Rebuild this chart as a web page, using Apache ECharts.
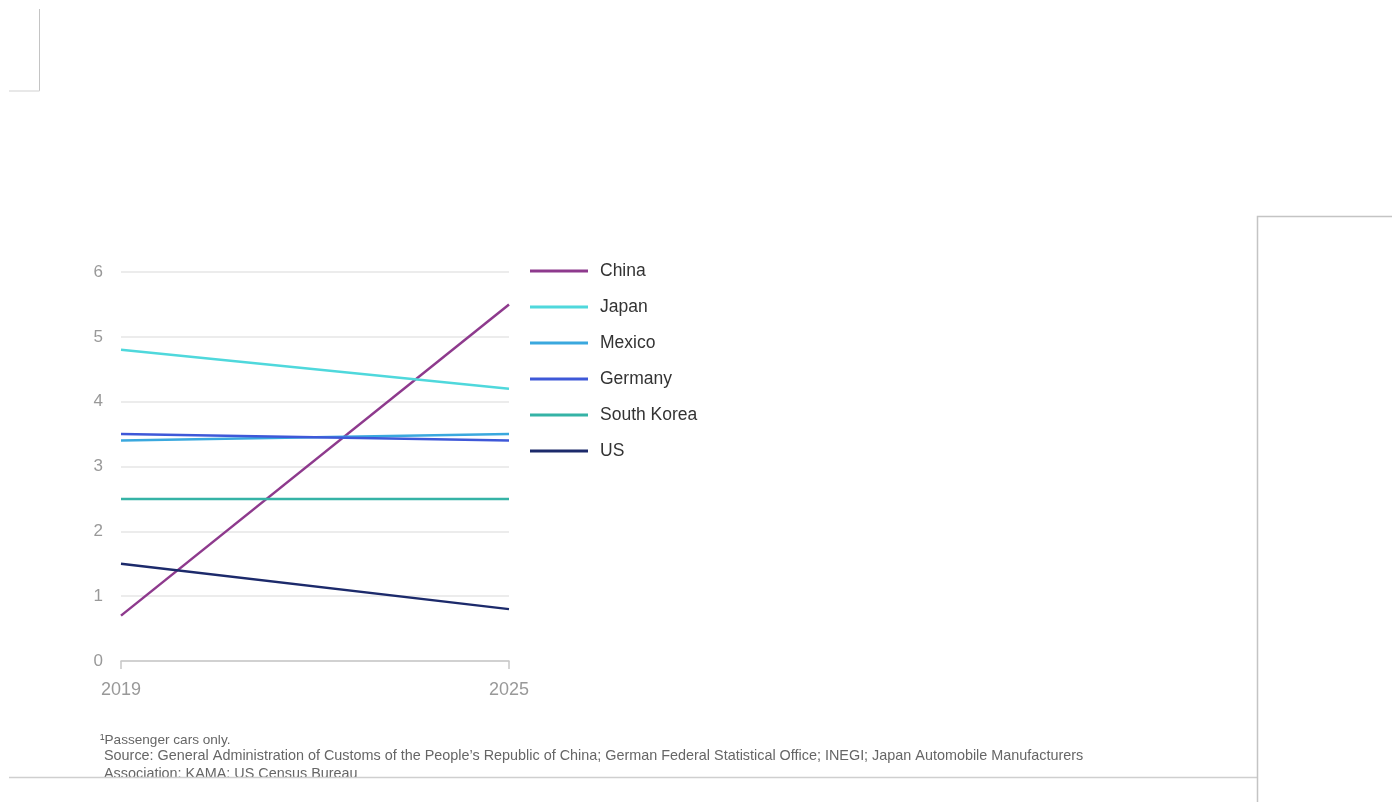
<!DOCTYPE html>
<html>
<head>
<meta charset="utf-8">
<script src="https://cdn.jsdelivr.net/npm/echarts@6/dist/echarts.min.js"></script>
<style>
  html, body { margin: 0; padding: 0; background: #fff; }
  #mychart { width: 1392px; height: 802px; }
</style>
</head>
<body>
<div id="mychart"></div>
<script>
// years on the x axis
const years = ['2019', '2025'];
// values per country
const china = [0.7, 5.5];
const japan = [4.8, 4.2];
const mexico = [3.4, 3.5];
const germany = [3.5, 3.4];
const southKorea = [2.5, 2.5];
const us = [1.5, 0.8];
const yTicks = [0, 1, 2, 3, 4, 5, 6];

const footnote = '\u00B9Passenger cars only.';
const source1 = 'Source: General Administration of Customs of the People\u2019s Republic of China; German Federal Statistical Office; INEGI; Japan Automobile Manufacturers';
const source2 = 'Association; KAMA; US Census Bureau';

const font = '"Liberation Sans", Arial, sans-serif';

const mkLine = (name, data, color) => ({
    name: name,
    type: 'line',
    data: data,
    symbol: 'none',
    lineStyle: { width: 2.5, color: color },
    itemStyle: { color: color }
});

let myChart = echarts.init(document.getElementById('mychart'));
let option = {
    animation: false,
    backgroundColor: '#fff',
    textStyle: { fontFamily: font },
    grid: { left: 121, right: 883, top: 272, bottom: 141 },
    legend: {
        orient: 'vertical',
        left: 525,
        top: 257,
        icon: 'rect',
        itemWidth: 58,
        itemHeight: 3,
        itemGap: 18,
        textStyle: { fontSize: 17.5, color: '#333', fontFamily: font, padding: [0, 0, 0, 7], lineHeight: 18 },
        data: ['China', 'Japan', 'Mexico', 'Germany', 'South Korea', 'US']
    },
    xAxis: {
        type: 'category',
        boundaryGap: false,
        data: years,
        axisLine: { lineStyle: { color: '#c8c8c8', width: 1.5 } },
        axisTick: { show: true, length: 8, lineStyle: { color: '#c8c8c8', width: 1.5 } },
        axisLabel: { color: '#999', fontSize: 18, margin: 20, fontFamily: font }
    },
    yAxis: {
        type: 'value',
        min: yTicks[0],
        max: yTicks[yTicks.length - 1],
        interval: 1,
        axisLine: { show: false },
        axisTick: { show: false },
        axisLabel: { color: '#999', fontSize: 17, margin: 18, fontFamily: font },
        splitLine: { lineStyle: { color: '#e6e6e6', width: 1.5 } }
    },
    series: [
        mkLine('China', china, '#8e3a8d'),
        mkLine('Japan', japan, '#4fd8dc'),
        mkLine('Mexico', mexico, '#3aa8de'),
        mkLine('Germany', germany, '#3e58d8'),
        mkLine('South Korea', southKorea, '#35b3a6'),
        mkLine('US', us, '#1c2a6b')
    ],
    graphic: [
        // screenshot frame bits
        { type: 'line', shape: { x1: 39.5, y1: 9, x2: 39.5, y2: 91 }, style: { stroke: '#c4c4c4', lineWidth: 1 } },
        { type: 'line', shape: { x1: 9, y1: 91, x2: 39.5, y2: 91 }, style: { stroke: '#e0e0e0', lineWidth: 1.5 } },
        { type: 'text', left: 100, top: 733, style: { text: footnote, fontSize: 13.6, fill: '#666', fontFamily: font } },
        { type: 'text', left: 104, top: 749, style: { text: source1, fontSize: 14.4, fill: '#666', fontFamily: font } },
        { type: 'text', left: 104, top: 767, style: { text: source2, fontSize: 14.4, fill: '#666', fontFamily: font } },
        { type: 'rect', z: 10, shape: { x: 0, y: 777, width: 1392, height: 25 }, style: { fill: '#fff' } },
        { type: 'line', z: 11, shape: { x1: 9, y1: 777.5, x2: 1257, y2: 777.5 }, style: { stroke: '#cfcfcf', lineWidth: 1.5 } },
        { type: 'rect', z: 11, shape: { x: 1257.5, y: 216.5, width: 200, height: 700 }, style: { fill: '#fff', stroke: '#c4c4c4', lineWidth: 1.5 } }
    ]
};
myChart.setOption(option);
</script>
</body>
</html>
